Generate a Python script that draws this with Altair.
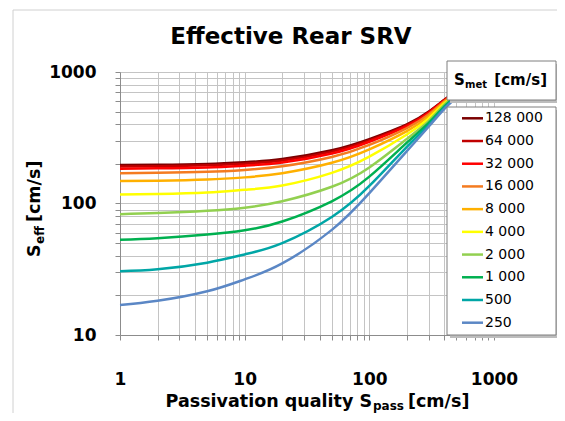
import altair as alt
import pandas as pd

# ---------------- data ----------------
s_pass = [1, 2, 5, 10, 20, 50, 100, 200, 300, 400, 500]
series_labels = ["128 000", "64 000", "32 000", "16 000", "8 000",
                 "4 000", "2 000", "1 000", "500", "250"]
s_eff_128000 = [196, 197, 200, 206, 218, 254, 309, 400, 500, 615, 720]
s_eff_64000 = [191, 192, 195, 201, 212, 248, 302, 395, 495, 612, 715]
s_eff_32000 = [184, 185, 188, 194, 205, 240, 295, 388, 490, 608, 710]
s_eff_16000 = [170, 171, 174, 180, 192, 226, 279, 375, 478, 600, 700]
s_eff_8000 = [148, 149, 152, 158, 170, 204, 258, 355, 462, 590, 690]
s_eff_4000 = [117, 118, 121, 127, 137, 171, 227, 335, 444, 578, 680]
s_eff_2000 = [83, 84.5, 88, 93, 104, 134, 188, 310, 425, 565, 670]
s_eff_1000 = [53, 54.5, 58, 62.5, 73, 104, 160, 290, 410, 548, 660]
s_eff_500 = [30.6, 31.6, 35.5, 41, 50, 79, 136, 270, 395, 535, 650]
s_eff_250 = [16.9, 18.2, 21.5, 26.5, 35, 63, 120, 250, 385, 525, 640]
series_values = [s_eff_128000, s_eff_64000, s_eff_32000, s_eff_16000, s_eff_8000,
                 s_eff_4000, s_eff_2000, s_eff_1000, s_eff_500, s_eff_250]
series_colors = ["#7B0000", "#C00000", "#FF0000", "#F47B20", "#FFB000",
                 "#FFFF00", "#92D050", "#00B050", "#00A6A6", "#5B87C5"]

x_ticks = [m * 10 ** e for e in range(3) for m in range(1, 10)] + [1000]
y_ticks = [m * 10 ** e for e in range(1, 3) for m in range(1, 10)] + [1000]

rows = []
for lab, vals in zip(series_labels, series_values):
    for xv, yv in zip(s_pass, vals):
        rows.append({"series": lab, "s_pass": xv, "s_eff": yv})
df = pd.DataFrame(rows)
legend_df = pd.DataFrame({"series": series_labels})
one = pd.DataFrame({"a": [0]})

FONT = "DejaVu Sans"
GRID = "#C4C4C4"
AXC = "#8C8C8C"

color = alt.Color("series:N", scale=alt.Scale(domain=series_labels, range=series_colors), legend=None)

lines = alt.Chart(df).mark_line(strokeWidth=2.5, interpolate="natural").encode(
    x=alt.X("s_pass:Q",
            scale=alt.Scale(type="log", domain=[1, 1000]),
            axis=alt.Axis(values=x_ticks, title=None, grid=True, gridColor=GRID,
                          labelExpr="indexof([1,10,100,1000], datum.value) >= 0 ? toString(datum.value) : ''",
                          labelFont=FONT, labelFontWeight="bold", labelFontSize=17, labelColor="#000",
                          tickSize=5, tickColor=AXC, domainColor=AXC, labelPadding=31, labelFlush=False)),
    y=alt.Y("s_eff:Q",
            scale=alt.Scale(type="log", domain=[10, 1000]),
            axis=alt.Axis(values=y_ticks, title=None, grid=True, gridColor=GRID,
                          labelExpr="indexof([10,100,1000], datum.value) >= 0 ? toString(datum.value) : ''",
                          labelFont=FONT, labelFontWeight="bold", labelFontSize=17, labelColor="#000",
                          tickSize=5, tickColor=AXC, domainColor=AXC, labelPadding=19)),
    color=color,
)

frame = alt.Chart(one).mark_rect(fill="transparent", stroke="#D0D0D0", strokeWidth=1).encode(
    x=alt.value(-107), x2=alt.value(442), y=alt.value(-62), y2=alt.value(400))


def box(x1, x2, y1, y2):
    shadow = alt.Chart(one).mark_rect(fill="#BDBDBD").encode(
        x=alt.value(x1 + 3), x2=alt.value(x2 + 3), y=alt.value(y1 + 3), y2=alt.value(y2 + 3))
    b = alt.Chart(one).mark_rect(fill="white", stroke="#7F7F7F", strokeWidth=1).encode(
        x=alt.value(x1), x2=alt.value(x2), y=alt.value(y1), y2=alt.value(y2))
    return [shadow, b]


leg_y = alt.Y("series:N", sort=series_labels,
              scale=alt.Scale(type="point", domain=series_labels, range=[46.3, 250.7], padding=0),
              axis=None)
leg_rules = alt.Chart(legend_df).mark_rule(strokeWidth=2.5).encode(
    x=alt.value(342), x2=alt.value(363), y=leg_y, color=color)
leg_text = alt.Chart(legend_df).mark_text(align="left", baseline="middle", font=FONT,
                                          fontSize=14, color="#000").encode(
    x=alt.value(365), y=leg_y, text="series:N")


def txt(s, x, y, size, align="left", angle=0, weight="bold"):
    return alt.Chart(one).mark_text(text=s, align=align, baseline="alphabetic", angle=angle,
                                    font=FONT, fontSize=size, fontWeight=weight, color="#000").encode(
        x=alt.value(x), y=alt.value(y))


# chart title
main_title = [txt("Effective Rear SRV", 171, -28, 23, align="center")]
# legend title box text: S_met [cm/s]
leg_title = [
    txt("S", 334, 13, 15),
    txt("met", 345, 16, 10),
    txt("[cm/s]", 427, 13, 15, align="right"),
]
# x axis title: Passivation quality S_pass [cm/s]
x_title = [
    txt("Passivation quality S", 252, 335, 17.5, align="right"),
    txt("pass", 253, 338, 12),
    txt("[cm/s]", 288, 335, 17.5),
]
# y axis title (rotated): S_eff [cm/s]
y_title = [
    txt("S", -80, 185, 17.5, angle=270),
    txt("eff", -76, 172, 12, angle=270),
    txt("[cm/s]", -80, 150, 17.5, angle=270),
]

layers = [frame, lines] + box(327, 436, -11, 28) + box(327, 436, 35, 263) + \
    [leg_rules, leg_text] + leg_title + x_title + y_title + main_title

chart = alt.layer(*layers).resolve_scale(y="independent").properties(
    width=374, height=263,
    padding={"left": 112, "top": 64, "right": 63, "bottom": 78},
    autosize=alt.AutoSizeParams(type="none"),
).configure_view(stroke=None)

chart.save("out.html", embed_options={"renderer": "svg", "actions": False})
